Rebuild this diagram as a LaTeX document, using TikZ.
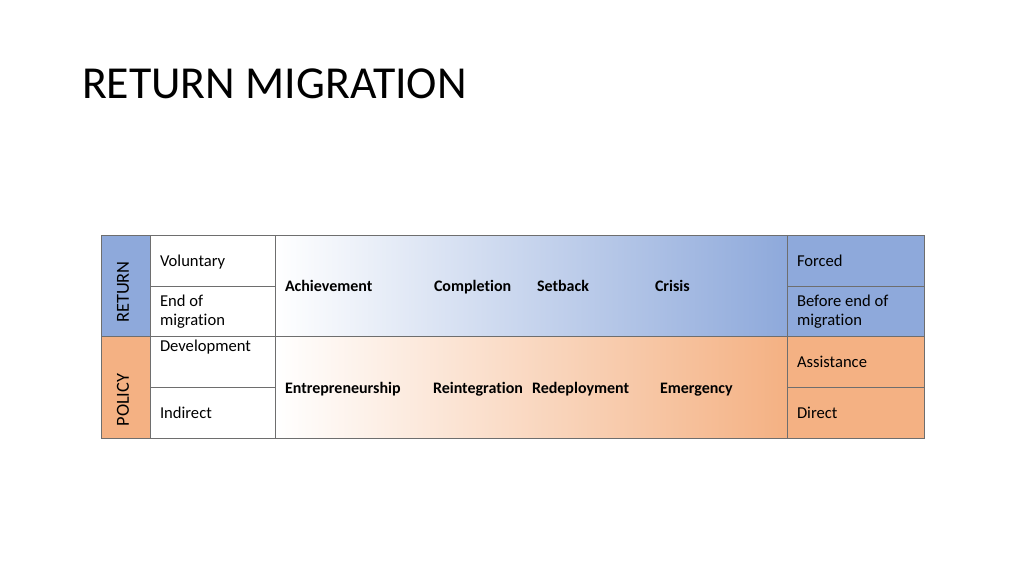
\documentclass[tikz,border=0pt]{standalone}
\usepackage{fontspec}
\setmainfont{Carlito}[Ligatures=CommonOff]
\definecolor{retblue}{RGB}{142,169,219}
\definecolor{polorange}{RGB}{244,177,131}
\definecolor{gridgray}{RGB}{110,110,110}

\begin{document}
\begin{tikzpicture}[x=1pt,y=-1pt]
        \tikzstyle{every node}=[inner sep=0pt, outer sep=0pt, text=black]
        \tikzstyle{cell}=[font=\fontsize{16.6}{19}\selectfont, anchor=base west, align=left]
        \tikzstyle{kind}=[font=\fontsize{16}{19}\selectfont\bfseries, anchor=base west]
        \tikzstyle{side}=[font=\fontsize{18.4}{19}\selectfont, rotate=90]
        \tikzstyle{grid}=[draw=gridgray, line width=0.8pt]
        \useasboundingbox (0,0) rectangle (1024,576);
        % title
        \node[anchor=base west, font=\fontsize{45.8}{50}\selectfont] (title) at (82,98) {RETURN MIGRATION};
        % fills
        \fill[retblue] (101,235) rectangle (150,336);
        \fill[polorange] (101,336) rectangle (150,438);
        \shade[left color=white, right color=retblue] (275,235) rectangle (787,336);
        \shade[left color=white, right color=polorange] (275,336) rectangle (787,438);
        \fill[retblue] (787,235) rectangle (924,336);
        \fill[polorange] (787,336) rectangle (924,438);
        % grid
        \draw[grid] (101,235) rectangle (924,438);
        \draw[grid] (150,235) -- (150,438);
        \draw[grid] (275,235) -- (275,438);
        \draw[grid] (787,235) -- (787,438);
        \draw[grid] (101,336) -- (924,336);
        \draw[grid] (150,286) -- (275,286);
        \draw[grid] (150,387) -- (275,387);
        \draw[grid] (787,286) -- (924,286);
        \draw[grid] (787,387) -- (924,387);
        % side labels
        \node[side] (return) at (123,292) {RETURN};
        \node[side] (policy) at (123,400) {POLICY};
        % left column (multi-line cells sit on their last baseline)
        \node[cell] (voluntary) at (160,266) {Voluntary};
        \node[cell] (endmig) at (160,325) {End of\\migration};
        \node[cell] (develop) at (160,351) {Development};
        \node[cell] (indirect) at (160,418) {Indirect};
        % middle
        \node[kind] (achieve) at (285,291) {Achievement};
        \node[kind] (complete) at (434,291) {Completion};
        \node[kind] (setback) at (537,291) {Setback};
        \node[kind] (crisis) at (655,291) {Crisis};
        \node[kind] (entre) at (285,393) {Entrepreneurship};
        \node[kind] (reint) at (433,393) {Reintegration};
        \node[kind] (redeploy) at (532,393) {Redeployment};
        \node[kind] (emerg) at (660,393) {Emergency};
        % right column
        \node[cell] (forced) at (797,266) {Forced};
        \node[cell] (before) at (797,325) {Before end of\\migration};
        \node[cell] (assist) at (797,367) {Assistance};
        \node[cell] (direct) at (797,418) {Direct};
\end{tikzpicture}
\end{document}
